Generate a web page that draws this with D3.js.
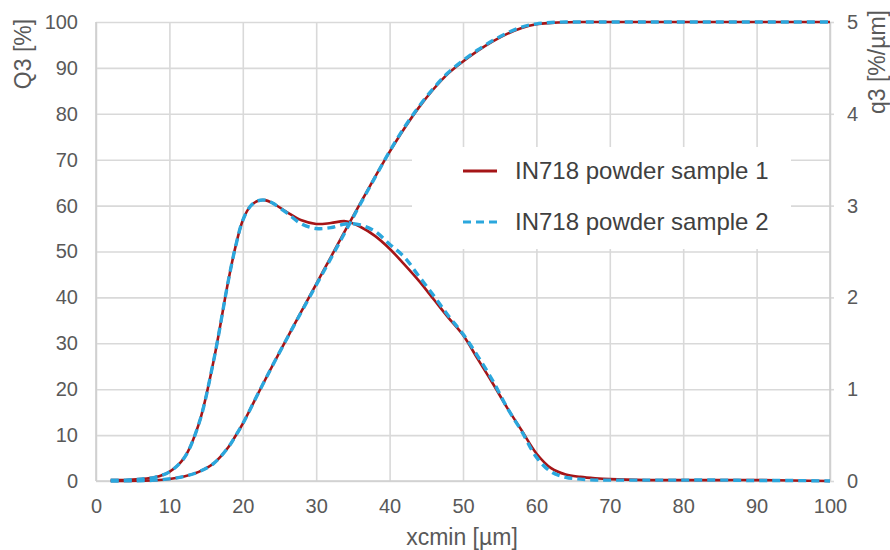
<!DOCTYPE html>
<meta charset="utf-8">
<head>
	<title>Q3 / q3 particle size distribution</title>
</head>

<style>

body{
	margin: 0;
	background: #fff;
}

svg{
	font-family: "Liberation Sans", Arial, sans-serif;
}

.grid line{
	stroke: #d9d9d9;
	stroke-width: 1.6;
}

.tick text{
	fill: #595959;
	font-size: 20px;
}

.title{
	fill: #595959;
	font-size: 23px;
}

.legend text{
	fill: #404040;
	font-size: 24px;
}

</style>

<body>

<svg width="890" height="550"></svg>

<script src="https://cdnjs.cloudflare.com/ajax/libs/d3/7.8.5/d3.min.js"></script>
<script>

// particle size [µm]
var xcmin = [2, 4, 6, 8, 10, 12, 14, 16, 18, 19, 20, 21, 22, 23, 24, 26, 28, 30, 32, 34, 36, 38,
	40, 42, 44, 46, 48, 50, 52, 54, 56, 58, 60, 62, 64, 66, 68, 70, 75, 80, 85, 90, 95, 100];

// cumulative Q3 [%]
var Q3_sample1 = [0, 0.02, 0.06, 0.18, 0.45, 1.0, 2.0, 3.8, 7.3, 9.8, 12.5, 15.6, 18.8, 21.9, 25, 31, 37, 42.9, 48.8, 54.7, 60.5, 66.2,
	71.7, 76.8, 81.4, 85.4, 88.8, 91.4, 93.7, 95.7, 97.4, 98.7, 99.5, 99.8, 99.95, 100, 100, 100, 100, 100, 100, 100, 100, 100];
var Q3_sample2 = [0, 0.02, 0.06, 0.18, 0.45, 1.0, 2.0, 3.8, 7.3, 9.8, 12.5, 15.6, 18.8, 21.9, 25, 31, 36.9, 42.7, 48.5, 54.4, 60.3, 66.1,
	71.8, 77, 81.6, 85.6, 89, 91.6, 93.9, 95.9, 97.6, 98.9, 99.6, 99.9, 100, 100, 100, 100, 100, 100, 100, 100, 100, 100];

// density q3 [%/µm]
var q3_sample1 = [0.01, 0.01, 0.02, 0.04, 0.1, 0.25, 0.62, 1.3, 2.17, 2.55, 2.84, 2.99, 3.05, 3.06, 3.03, 2.93, 2.84, 2.8, 2.81, 2.83, 2.77, 2.67,
	2.53, 2.36, 2.18, 1.98, 1.78, 1.59, 1.33, 1.07, 0.8, 0.55, 0.3, 0.14, 0.07, 0.045, 0.03, 0.02, 0.01, 0.01, 0.01, 0.01, 0.005, 0];
var q3_sample2 = [0.01, 0.01, 0.02, 0.04, 0.1, 0.25, 0.62, 1.3, 2.17, 2.55, 2.84, 2.99, 3.05, 3.06, 3.03, 2.92, 2.8, 2.75, 2.76, 2.8, 2.79, 2.72,
	2.58, 2.44, 2.23, 2.02, 1.8, 1.6, 1.36, 1.1, 0.8, 0.54, 0.26, 0.1, 0.04, 0.02, 0.01, 0.01, 0.01, 0.01, 0.01, 0.005, 0.005, 0];

var xTicks = [0, 10, 20, 30, 40, 50, 60, 70, 80, 90, 100];
var QTicks = [0, 10, 20, 30, 40, 50, 60, 70, 80, 90, 100];
var qTicks = [0, 1, 2, 3, 4, 5];

var seriesNames = ['IN718 powder sample 1', 'IN718 powder sample 2'];
var seriesColors = ['#a51517', '#2ba7dd'];

// plot box (window.top is read-only, so no bare "top")
var plotL = 96, plotR = 830, plotT = 22, plotB = 481;

var svg = d3.select('svg');

var x = d3.scaleLinear().domain([0, 100]).range([plotL, plotR]);
var yQ = d3.scaleLinear().domain([0, 100]).range([plotB, plotT]);
var yq = d3.scaleLinear().domain([0, 5]).range([plotB, plotT]);

// gridlines + tick labels
svg.append('g')
	.attr('class', 'grid')
	.attr('transform', 'translate(0,' + plotB + ')')
	.call(d3.axisBottom(x).tickValues(xTicks).tickSize(-(plotB - plotT)).tickPadding(18));

svg.append('g')
	.attr('class', 'grid')
	.attr('transform', 'translate(' + plotL + ',0)')
	.call(d3.axisLeft(yQ).tickValues(QTicks).tickSize(-(plotR - plotL)).tickPadding(18));

svg.append('g')
	.attr('class', 'grid')
	.attr('transform', 'translate(' + plotR + ',0)')
	.call(d3.axisRight(yq).tickValues(qTicks).tickFormat(d3.format('d')).tickSize(4).tickPadding(13));

svg.selectAll('.grid .domain').remove();

// axis lines
var axisLines = [
	[plotL, plotT, plotL, plotB],
	[plotR, plotT, plotR, plotB],
	[plotL, plotB, plotR, plotB]
];
svg.append('g')
	.selectAll('line')
	.data(axisLines)
	.enter()
	.append('line')
	.attr('x1', function(d){ return d[0]; })
	.attr('y1', function(d){ return d[1]; })
	.attr('x2', function(d){ return d[2]; })
	.attr('y2', function(d){ return d[3]; })
	.attr('stroke', '#cfcfcf')
	.attr('stroke-width', 1.6);

// legend background covers the gridlines
svg.append('rect')
	.attr('x', 412).attr('y', 147)
	.attr('width', 379).attr('height', 102)
	.attr('fill', '#fff');

// curves
function makeLine(yScale){
	return d3.line()
		.x(function(d, i){ return x(xcmin[i]); })
		.y(function(d){ return yScale(d); })
		.curve(d3.curveCatmullRom.alpha(0.5));
}

var curves = [
	{d: makeLine(yq)(q3_sample1), s: 0},
	{d: makeLine(yQ)(Q3_sample1), s: 0},
	{d: makeLine(yq)(q3_sample2), s: 1},
	{d: makeLine(yQ)(Q3_sample2), s: 1}
];

svg.append('g')
	.selectAll('path')
	.data(curves)
	.enter()
	.append('path')
	.attr('d', function(c){ return c.d; })
	.attr('fill', 'none')
	.attr('stroke', function(c){ return seriesColors[c.s]; })
	.attr('stroke-width', function(c){ return c.s == 0 ? 2.6 : 3.4; })
	.attr('stroke-dasharray', function(c){ return c.s == 0 ? null : '8,5'; });

// legend
var legend = svg.append('g').attr('class', 'legend');
var rows = legend.selectAll('g')
	.data(seriesNames)
	.enter()
	.append('g')
	.attr('transform', function(d, i){ return 'translate(463,' + (171 + i*51) + ')'; });

rows.append('line')
	.attr('x1', 0).attr('x2', 34)
	.attr('stroke', function(d, i){ return seriesColors[i]; })
	.attr('stroke-width', 3.2)
	.attr('stroke-dasharray', function(d, i){ return i == 0 ? null : '8,5'; });

rows.append('text')
	.attr('x', 52)
	.attr('y', 8)
	.text(function(d){ return d; });

// axis titles
svg.append('text')
	.attr('class', 'title')
	.attr('transform', 'translate(31,54) rotate(-90)')
	.attr('text-anchor', 'middle')
	.text('Q3 [%]');

svg.append('text')
	.attr('class', 'title')
	.attr('transform', 'translate(885,62) rotate(-90)')
	.attr('text-anchor', 'middle')
	.text('q3 [%/µm]');

svg.append('text')
	.attr('class', 'title')
	.attr('x', 462)
	.attr('y', 545)
	.attr('text-anchor', 'middle')
	.text('xcmin [µm]');

</script>

</body>
</html>
